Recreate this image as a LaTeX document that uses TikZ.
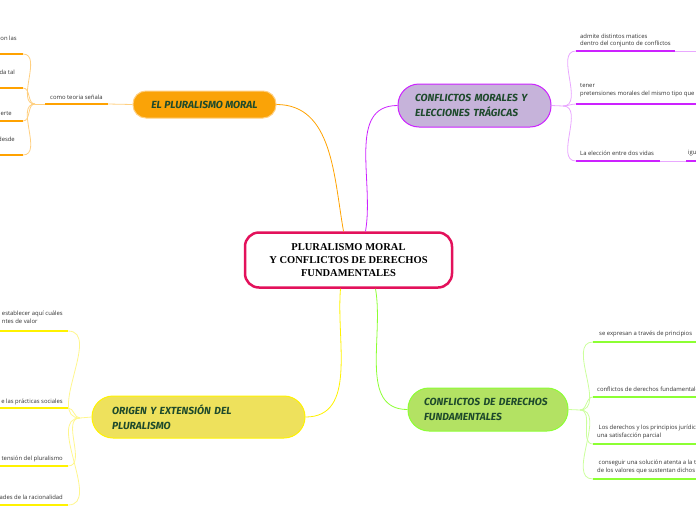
\documentclass[tikz,border=0pt]{standalone}
\usepackage{fontspec}
\setmainfont{Open Sans}
\newfontfamily\titulofont{Liberation Serif}
\newfontfamily\temafont{Fira Sans}
\usetikzlibrary{positioning}
\definecolor{rojo}{HTML}{E3115B}
\definecolor{naranja}{HTML}{FAA307}
\definecolor{naranjafuerte}{HTML}{FFA200}
\definecolor{naranjaclaro}{HTML}{FFCF80}
\definecolor{lila}{HTML}{C6B3DA}
\definecolor{violeta}{HTML}{CC22FF}
\definecolor{violetaclaro}{HTML}{E9A8FF}
\definecolor{amarillo}{HTML}{EEE15C}
\definecolor{amarillofuerte}{HTML}{FFF200}
\definecolor{amarilloclaro}{HTML}{FFF68C}
\definecolor{verde}{HTML}{B3E263}
\definecolor{verdefuerte}{HTML}{8CFF33}
\definecolor{verdeclaro}{HTML}{CBFF9C}
\definecolor{verdeosc}{HTML}{1E4A2C}
\definecolor{gris}{HTML}{333333}
\tikzset{
  centro/.style={draw=rojo, line width=2.5pt, fill=white, rounded corners=14pt,
    minimum width=207pt, minimum height=55pt, align=center, text=black,
    font=\titulofont\bfseries\fontsize{10.5}{13}\selectfont},
  tema/.style={line width=1pt, align=left, text=verdeosc, inner xsep=18pt,
    font=\temafont\bfseries\itshape\fontsize{10.3}{15.5}\selectfont},
  hoja/.style={inner sep=0pt, align=left, text=gris,
    font=\fontsize{5.9}{7.8}\selectfont},
  rama/.style={line width=0.8pt},
  subrayado/.style={line width=1.6pt}
}
\begin{document}
\begin{tikzpicture}[x=1pt,y=-1pt]
\useasboundingbox (0,0) rectangle (696,520);

%nodo central
\node[centro] (centro) at (348.5,260) {PLURALISMO MORAL\\Y CONFLICTOS DE DERECHOS\\FUNDAMENTALES};

%temas
\node[tema, fill=naranja, draw=naranjaclaro, minimum width=143pt, minimum height=27pt,
  rounded corners=13pt] (moral) at (204.5,104.5) {EL PLURALISMO MORAL};
\node[tema, fill=lila, draw=violeta, text width=119pt, inner xsep=17pt, minimum height=43pt,
  rounded corners=21pt] (tragicas) at (474.5,105.5) {CONFLICTOS MORALES Y\\ELECCIONES TRÁGICAS};
\node[tema, fill=amarillo, draw=amarillofuerte, inner xsep=20pt, text width=173pt,
  minimum height=42pt, rounded corners=21pt] (origen) at (198.5,417) {ORIGEN Y EXTENSIÓN DEL\\PLURALISMO};
\node[tema, fill=verde, draw=verdefuerte, text width=128pt, inner xsep=16pt, minimum height=43pt,
  rounded corners=21pt] (derechos) at (488,409.5) {CONFLICTOS DE DERECHOS\\FUNDAMENTALES};

%ramas del centro
\draw[rama, naranjafuerte] (moral.east) to[out=0,in=100] ([xshift=-5pt]centro.north);
\draw[rama, violeta] ([xshift=17pt]centro.north) to[out=80,in=180] (tragicas.west);
\draw[rama, amarillofuerte] ([xshift=-8pt]centro.south) to[out=-95,in=0] (origen.east);
\draw[rama, verdefuerte] ([xshift=27pt]centro.south) to[out=-80,in=180] (derechos.west);

%el pluralismo moral
\node[hoja, anchor=west] (senala) at (50,97) {como teoria señala};
\coordinate (senalaIzq) at (45,104);
\coordinate (senalaDer) at (108,104);
\coordinate (forkMoral) at (35,104);
\draw[rama, naranjaclaro] (moral.west) -- (senalaDer);
\draw[subrayado, naranjafuerte] (senalaIzq) -- (senalaDer);
\draw[rama, naranjaclaro] (senalaIzq) -- (forkMoral);
\foreach \i/\yl/\xt/\yt/\txt in {1/54/17/38/on las, 2/88/15/72/da tal, 3/121/12/114/erte, 4/155/15/139/desde}{
  \node[hoja, anchor=east] (moral\i) at (\xt,\yt) {\txt};
  \coordinate (moralL\i) at (23,\yl);
  \draw[rama, naranjaclaro] (forkMoral) to[out=180,in=0] (moralL\i);
  \draw[subrayado, naranjafuerte] (moralL\i) -- ++(-25,0);
}

%conflictos morales y elecciones tragicas
\coordinate (forkTragicas) at (563,106);
\draw[rama, violetaclaro] (tragicas.east) -- (forkTragicas);
\node[hoja, anchor=north west] (matices) at (580,33.5) {admite distintos matices\\dentro del conjunto de conflictos};
\node[hoja, anchor=north west] (tener) at (580,83.5) {tener\\pretensiones morales del mismo tipo que};
\node[hoja, anchor=west] (vidas) at (580,153) {La elección entre dos vidas};
\node[hoja, anchor=west] (igu) at (688,153) {igu};
\foreach \i/\yl in {1/51, 2/104, 3/161}{
  \coordinate (tragL\i) at (576,\yl);
  \draw[rama, violetaclaro] (forkTragicas) to[out=0,in=180] (tragL\i);
}
\coordinate (maticesDer) at (675,51);
\coordinate (vidasDer) at (660,161);
\coordinate (iguIzq) at (686,161);
\draw[subrayado, violeta] (tragL1) -- (maticesDer);
\draw[rama, violetaclaro] (maticesDer) -- ++(25,0);
\draw[subrayado, violeta] (tragL2) -- ++(125,0);
\draw[subrayado, violeta] (tragL3) -- (vidasDer);
\draw[rama, violetaclaro] (vidasDer) -- (iguIzq);
\draw[subrayado, violeta] (iguIzq) -- ++(15,0);

%origen y extension del pluralismo
\coordinate (forkOrigen) at (80,418);
\draw[rama, amarilloclaro] (origen.west) -- (forkOrigen);
\node[hoja, anchor=north east] (origen1) at (63,311) {establecer aquí cuáles\\ntes de valor};
\node[hoja, anchor=east] (origen2) at (63,402) {e las prácticas sociales};
\node[hoja, anchor=east] (origen3) at (63,459) {tensión del pluralismo};
\node[hoja, anchor=east] (origen4) at (63,497) {ades de la racionalidad};
\foreach \i/\yl in {1/331, 2/408, 3/466, 4/505}{
  \coordinate (origenL\i) at (68,\yl);
  \draw[rama, amarilloclaro] (forkOrigen) to[out=180,in=0] (origenL\i);
  \draw[subrayado, amarillofuerte] (origenL\i) -- ++(-70,0);
}

%conflictos de derechos fundamentales
\coordinate (forkDerechos) at (580,410);
\draw[rama, verdeclaro] (derechos.east) -- (forkDerechos);
\node[hoja, anchor=west] (principios) at (599,334) {se expresan a través de principios};
\node[hoja, anchor=west] (fundamentales) at (597,389) {conflictos de derechos fundamentales};
\node[hoja, anchor=north west] (parcial) at (597,424.5) {\ Los derechos y los principios jurídic\\una satisfacción parcial};
\node[hoja, anchor=north west] (solucion) at (597,459.5) {\ conseguir una solución atenta a la t\\de los valores que sustentan dichos};
\foreach \i/\yl in {1/342, 2/397, 3/444, 4/479}{
  \coordinate (derL\i) at (593,\yl);
  \draw[rama, verdeclaro] (forkDerechos) to[out=0,in=180] (derL\i);
  \draw[subrayado, verdefuerte] (derL\i) -- ++(110,0);
}
\end{tikzpicture}
\end{document}
